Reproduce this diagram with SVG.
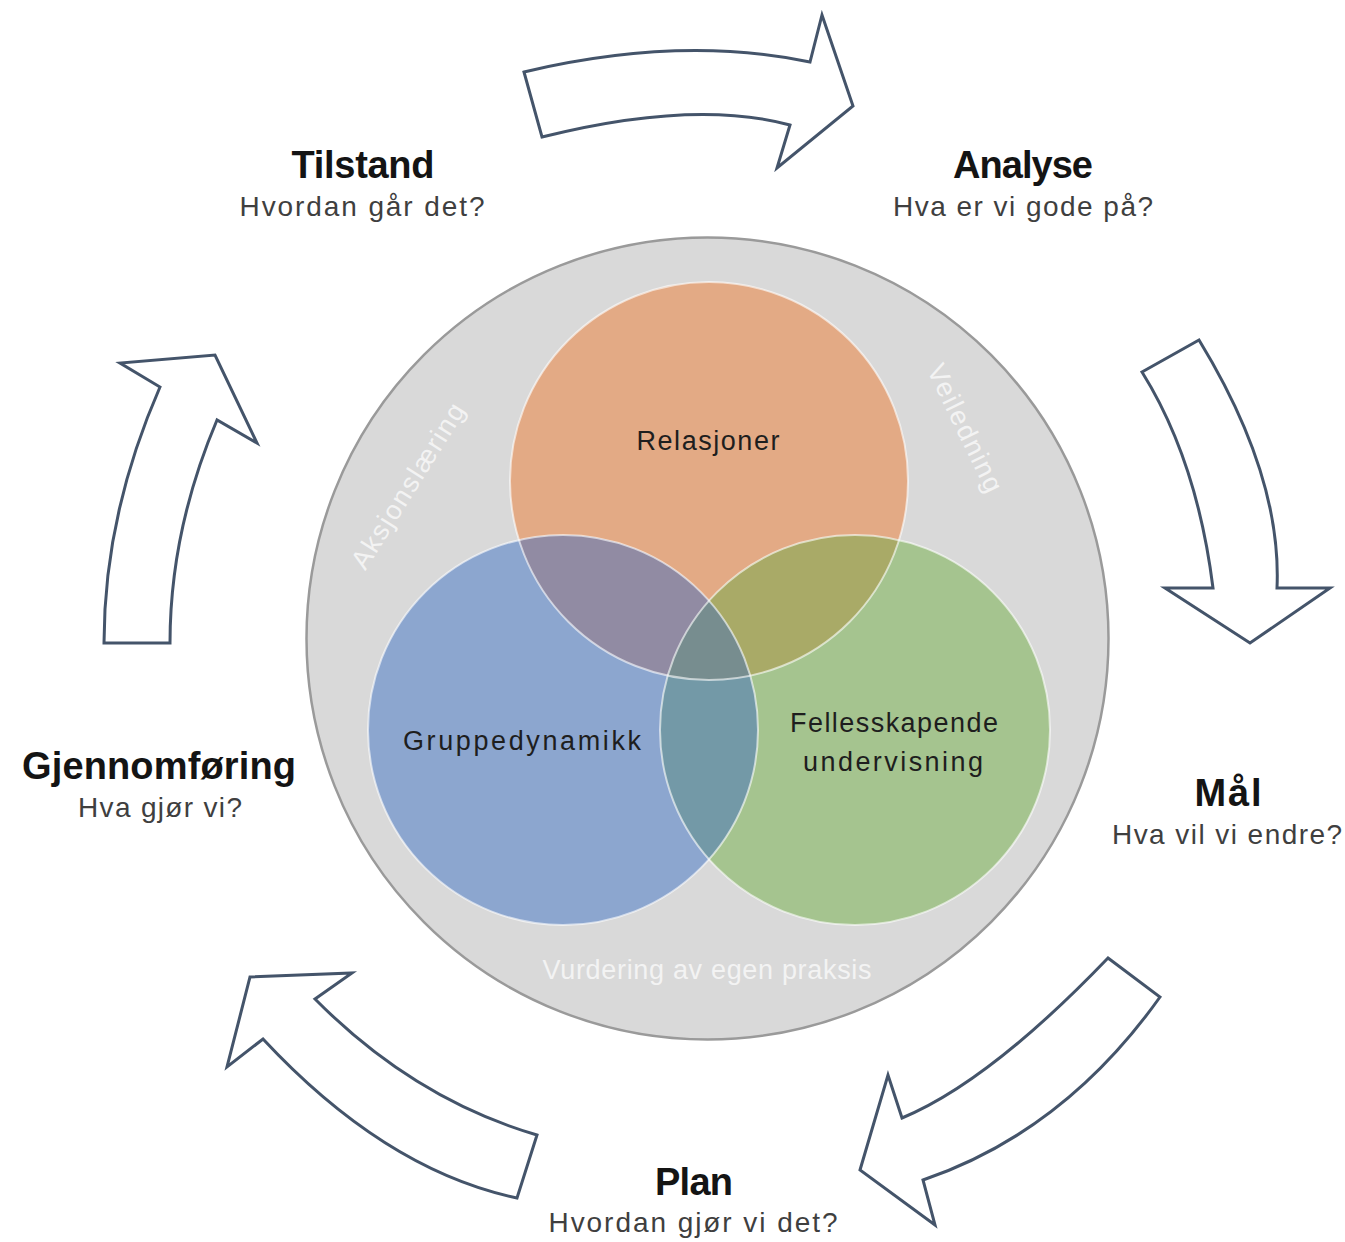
<svg xmlns="http://www.w3.org/2000/svg" width="1345" height="1242" viewBox="0 0 1345 1242">
<style>
.title{font-family:"Liberation Sans",Arial,sans-serif;font-weight:bold;font-size:38px;fill:#141414;text-anchor:middle}
.sub{font-family:"Liberation Sans",Arial,sans-serif;font-size:28px;fill:#3f3f3f;text-anchor:middle}
.lbl{font-family:"Liberation Sans",Arial,sans-serif;font-size:27px;fill:#1e1e1e;text-anchor:middle}
.glbl{font-family:"Liberation Sans",Arial,sans-serif;font-size:27px;fill:#f3f3f3;text-anchor:middle}
.arrow{fill:#ffffff;stroke:#44546a;stroke-width:3;stroke-linejoin:miter}
.edge{fill:none;stroke:#ffffff;stroke-opacity:0.6;stroke-width:2}
</style>
<defs>
<clipPath id="cO"><circle cx="709" cy="481" r="199"/></clipPath>
<clipPath id="cB"><circle cx="563" cy="730" r="195"/></clipPath>
<clipPath id="cG"><circle cx="855" cy="730" r="195"/></clipPath>
</defs>
<rect width="1345" height="1242" fill="#ffffff"/>

<g id="connectors">
<path class="arrow" d="M524,72 Q680,35 810,62 L822,15 L853,106 L777,168 L790,125 Q694,99 542,137 Z"/>
<path class="arrow" d="M1199,340 L1142,372 Q1197,460 1213,588 L1165,588 L1250,643 L1330,588 L1277,588 Q1282,476 1199,340 Z"/>
<path class="arrow" d="M1108,958 L1160,997 Q1064,1132 923,1180 L935,1225 L860,1170 L888,1075 L902,1118 Q989,1082 1108,958 Z"/>
<path class="arrow" d="M250,977 L352,973 L315,999 Q414,1099 537,1135 L517,1198 Q385,1170 263,1039 L227,1067 Z"/>
<path class="arrow" d="M104,643 L170,643 Q170,531 217,420 L257,443 L215,355 L120,363 L160,387 Q104,515 104,643 Z"/>
</g>

<g id="outer-circle">
<circle cx="707.5" cy="638.5" r="401" fill="#d9d9d9" stroke="#9a9a9a" stroke-width="2.5"/>
<text class="glbl" transform="translate(408,486) rotate(-58)" y="9" textLength="190" lengthAdjust="spacing">Aksjonslæring</text>
<text class="glbl" transform="translate(965,428) rotate(64)" y="9" textLength="139" lengthAdjust="spacing">Veiledning</text>
<text class="glbl" x="707" y="979" textLength="329" lengthAdjust="spacing">Vurdering av egen praksis</text>
</g>

<g id="venn">
<circle cx="709" cy="481" r="199" fill="#e3aa85"/>
<circle cx="563" cy="730" r="195" fill="#8ca6cf"/>
<circle cx="855" cy="730" r="195" fill="#a5c48f"/>
<circle cx="563" cy="730" r="195" fill="#918ba3" clip-path="url(#cO)"/>
<circle cx="855" cy="730" r="195" fill="#a9aa67" clip-path="url(#cO)"/>
<circle cx="855" cy="730" r="195" fill="#7399a7" clip-path="url(#cB)"/>
<g clip-path="url(#cO)"><circle cx="855" cy="730" r="195" fill="#778d8f" clip-path="url(#cB)"/></g>
<circle class="edge" cx="709" cy="481" r="199"/>
<circle class="edge" cx="563" cy="730" r="195"/>
<circle class="edge" cx="855" cy="730" r="195"/>
</g>

<g id="node-relasjoner"><text class="lbl" x="708" y="450" textLength="143" lengthAdjust="spacing">Relasjoner</text></g>
<g id="node-gruppedynamikk"><text class="lbl" x="522" y="750" textLength="238" lengthAdjust="spacing">Gruppedynamikk</text></g>
<g id="node-fellesskapende">
<text class="lbl" x="894" y="732" textLength="208" lengthAdjust="spacing">Fellesskapende</text>
<text class="lbl" x="893" y="771" textLength="180" lengthAdjust="spacing">undervisning</text>
</g>

<g id="node-tilstand">
<text class="title" x="363" y="178" textLength="143" lengthAdjust="spacing">Tilstand</text>
<text class="sub" x="362" y="216" textLength="245" lengthAdjust="spacing">Hvordan går det?</text>
</g>
<g id="node-analyse">
<text class="title" x="1023" y="178" textLength="140" lengthAdjust="spacing">Analyse</text>
<text class="sub" x="1023" y="216" textLength="260" lengthAdjust="spacing">Hva er vi gode på?</text>
</g>
<g id="node-maal">
<text class="title" x="1228" y="806" textLength="67" lengthAdjust="spacing">Mål</text>
<text class="sub" x="1227" y="844" textLength="230" lengthAdjust="spacing">Hva vil vi endre?</text>
</g>
<g id="node-plan">
<text class="title" x="694" y="1195" textLength="78" lengthAdjust="spacing">Plan</text>
<text class="sub" x="693" y="1232" textLength="289" lengthAdjust="spacing">Hvordan gjør vi det?</text>
</g>
<g id="node-gjennomforing">
<text class="title" x="159" y="779" textLength="274" lengthAdjust="spacing">Gjennomføring</text>
<text class="sub" x="160" y="817" textLength="164" lengthAdjust="spacing">Hva gjør vi?</text>
</g>
</svg>
